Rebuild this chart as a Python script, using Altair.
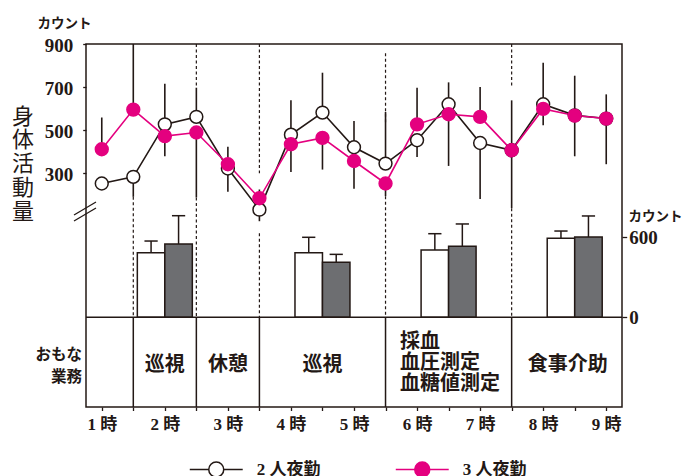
import altair as alt
import numpy as np
import pandas as pd

# Half-hour sampling points (hour of the night shift)
times = [1, 1.5, 2, 2.5, 3, 3.5, 4, 4.5, 5, 5.5, 6, 6.5, 7, 7.5, 8, 8.5, 9]
two_staff = [249, 280, 525, 560, 319, 127, 477, 580, 418, 342, 451, 619, 438, 404, 619, 567, 552]
three_staff = [409, 594, 470, 487, 339, 180, 432, 462, 354, 249, 525, 572, 560, 404, 597, 566, 552]
# SD whiskers: drawn upward from the higher mean and downward from the lower mean
sd_upper = [557, 900, 715, 696, 420, 221, 637, 766, 541, 583, 696, 721, 699, 637, 813, 752, 665]
sd_lower = [249, 187, 376, 184, 210, 73, 303, 314, 225, 190, 373, 331, 177, 134, 521, 376, 339]

series_names = ["2 人夜勤", "3 人夜勤"]

# Mean count per work period (right axis)
bar_times = [2, 4.5, 6.5, 8.5]
bar_two = [485, 485, 505, 592]
bar_two_sd = [572, 600, 627, 647]
bar_three = [550, 412, 532, 602]
bar_three_sd = [762, 472, 700, 760]

# Work-period boundaries and the dashed guide pieces (left-axis units)
boundaries = [1.5, 2.5, 3.5, 5.5, 7.5]
guide_x = [1.5, 2.5, 2.5, 3.5, 3.5, 5.5, 5.5, 7.5, 7.5]
guide_top = [187, 900, 184, 900, 17, 857, 190, 900, 134]
guide_bottom = [-375, 696, -375, 297, -375, 530, -375, 700, -375]

# Main duties in each period
task_names = ["巡視", "休憩", "巡視", "食事介助"]
task_x = [2, 3, 4.5, 8.39]
blood_task = ["採血\n血圧測定\n血糖値測定"]
blood_x = [5.73]

INK = "#231815"
MAGENTA = "#E4007F"
GREY = "#6D6E71"
NUM_FONT = "'Liberation Serif', 'Noto Sans CJK JP', serif"
JP_FONT = "'Noto Sans CJK JP', sans-serif"

W, H = 536, 363

x_scale = alt.Scale(domain=[0.75, 9.25], nice=False, zero=False)
left_scale = alt.Scale(domain=[-794, 900], nice=False, zero=False)
right_scale = alt.Scale(domain=[-673, 2050], nice=False, zero=False)

x_axis = alt.Axis(
    values=times,
    labelExpr="datum.value % 1 == 0 ? datum.value + ' 時' : ''",
    title=None, grid=False, domain=False,
    tickSize=3.5, tickWidth=1.3, tickColor=INK,
    labelFont=NUM_FONT, labelFontSize=17, labelFontWeight="bold",
    labelColor=INK, labelPadding=6, labelFlush=False, labelOverlap=False,
)
left_axis = alt.Axis(
    values=[300, 500, 700, 900],
    title=list("身体活動量"), titleAngle=0, titleAlign="center",
    titleBaseline="middle", titleX=-63.5, titleY=72,
    titleFont=JP_FONT, titleFontSize=22, titleFontWeight="normal",
    titleLineHeight=23.75, titleColor=INK,
    grid=False, domain=False, tickSize=3.3, tickWidth=1.3, tickColor=INK,
    labelFont=NUM_FONT, labelFontSize=19, labelFontWeight="bold",
    labelColor=INK, labelPadding=10, labelFlush=False, labelOffset=1.5,
)
right_axis = alt.Axis(
    orient="right", values=[0, 600],
    title="カウント", titleAngle=0, titleAlign="left", titleBaseline="middle",
    titleX=6, titleY=172, titleFont=JP_FONT, titleFontSize=13.5,
    titleFontWeight="bold", titleColor=INK,
    grid=False, domain=False, tickSize=4.7, tickWidth=1.3, tickColor=INK,
    labelFont=NUM_FONT, labelFontSize=19, labelFontWeight="bold",
    labelColor=INK, labelPadding=2, labelFlush=False,
)


def X(field):
    return alt.X(field, type="quantitative", scale=x_scale, axis=x_axis)


def YL(field):
    return alt.Y(field, type="quantitative", scale=left_scale, axis=left_axis)


def YR(field):
    return alt.Y(field, type="quantitative", scale=right_scale, axis=right_axis)


# ---- activity time series (left axis) ----
pts = pd.DataFrame({
    "time": times * 2,
    "value": two_staff + three_staff,
    "series": [series_names[0]] * len(times) + [series_names[1]] * len(times),
})

sd = pd.DataFrame({"time": times, "two": two_staff, "three": three_staff,
                   "upper": sd_upper, "lower": sd_lower})
sd["high_mean"] = sd[["two", "three"]].max(axis=1)
sd["low_mean"] = sd[["two", "three"]].min(axis=1)

guides = pd.DataFrame({"x": guide_x, "top": guide_top, "bottom": guide_bottom})

legend_symbol = "M-3.53,0L-1,0M1,0L3.53,0M1,0A1,1,0,1,1,-1,0A1,1,0,1,1,1,0Z"
legend = alt.Legend(
    title=None, orient="none", legendX=121.75, legendY=417,
    direction="horizontal", columns=2, columnPadding=72,
    symbolType=legend_symbol, symbolSize=225, symbolStrokeWidth=1.5,
    labelFont=NUM_FONT, labelFontSize=17, labelFontWeight="bold",
    labelColor=INK, labelOffset=32,
)

guide_layer = alt.Chart(guides).mark_rule(
    color=INK, strokeWidth=1.2, strokeDash=[3, 2.5]
).encode(x=X("x"), y=YL("top"), y2="bottom:Q")

sd_up_layer = alt.Chart(sd).mark_rule(color=INK, strokeWidth=1.6).encode(
    x=X("time"), y=YL("high_mean"), y2="upper:Q")
sd_low_layer = alt.Chart(sd).mark_rule(color=INK, strokeWidth=1.6).encode(
    x=X("time"), y=YL("low_mean"), y2="lower:Q")

line_two = alt.Chart(pts).transform_filter(
    alt.datum.series == series_names[0]
).mark_line(color=INK, strokeWidth=1.6).encode(x=X("time"), y=YL("value"))
line_three = alt.Chart(pts).transform_filter(
    alt.datum.series == series_names[1]
).mark_line(color=MAGENTA, strokeWidth=1.6).encode(x=X("time"), y=YL("value"))

point_layer = alt.Chart(pts).mark_point(
    shape="circle", size=165, strokeWidth=1.5, opacity=1, filled=False
).encode(
    x=X("time"), y=YL("value"),
    fill=alt.Fill("series:N", scale=alt.Scale(domain=series_names, range=["white", MAGENTA]), legend=legend),
    stroke=alt.Stroke("series:N", scale=alt.Scale(domain=series_names, range=[INK, MAGENTA]), legend=legend),
)

# ---- duty table texts ----
tasks = pd.DataFrame({"x": task_x, "name": task_names})
task_layer = alt.Chart(tasks).mark_text(
    font=JP_FONT, fontSize=20, fontWeight="bold", color=INK, baseline="middle"
).encode(x=X("x"), y=alt.value(321), text="name:N")

blood = pd.DataFrame({"x": blood_x, "name": blood_task})
blood_layer = alt.Chart(blood).mark_text(
    font=JP_FONT, fontSize=20, fontWeight="bold", color=INK, baseline="middle",
    align="left", lineBreak="\n", lineHeight=21,
).encode(x=X("x"), y=alt.value(297.7), text="name:N")

row_head = alt.Chart(pd.DataFrame({"t": ["おもな\n業務"]})).mark_text(
    font=JP_FONT, fontSize=15.5, fontWeight="bold", color=INK, align="right",
    baseline="middle", lineBreak="\n", lineHeight=21.5,
).encode(x=alt.value(-4), y=alt.value(311), text="t:N")

left_unit = alt.Chart(pd.DataFrame({"t": ["カウント"]})).mark_text(
    font=JP_FONT, fontSize=13.5, fontWeight="bold", color=INK, baseline="middle"
).encode(x=alt.value(-21.5), y=alt.value(-20.5), text="t:N")

# axis break marks
brk = pd.DataFrame({"k": [0]})
break_a = alt.Chart(brk).mark_rule(color=INK, strokeWidth=1.3).encode(
    x=alt.value(-12), x2=alt.value(10), y=alt.value(171), y2=alt.value(158))
break_b = alt.Chart(brk).mark_rule(color=INK, strokeWidth=1.3).encode(
    x=alt.value(-12), x2=alt.value(10), y=alt.value(177), y2=alt.value(164))

left_part = alt.layer(
    guide_layer, sd_up_layer, sd_low_layer, line_two, line_three, point_layer,
    task_layer, blood_layer, row_head, left_unit, break_a, break_b,
)

# ---- period means (right axis) ----
bar_w = 0.436
cap_half = 0.105
bars = pd.DataFrame({
    "center": bar_times * 2,
    "value": bar_two + bar_three,
    "sd": bar_two_sd + bar_three_sd,
    "side": [-1] * len(bar_times) + [1] * len(bar_times),
})
bars["x0"] = bars["center"] + np.where(bars["side"] < 0, -bar_w, 0.0)
bars["x1"] = bars["center"] + np.where(bars["side"] < 0, 0.0, bar_w)
bars["mid"] = (bars["x0"] + bars["x1"]) / 2
bars["cap0"] = bars["mid"] - cap_half
bars["cap1"] = bars["mid"] + cap_half

dividers = pd.DataFrame({"x": boundaries, "top": [0] * len(boundaries),
                         "bottom": [-673] * len(boundaries)})
divider_layer = alt.Chart(dividers).mark_rule(color=INK, strokeWidth=1.5).encode(
    x=X("x"), y=YR("top"), y2="bottom:Q")

zero_line = alt.Chart(pd.DataFrame({"x0": [0.75], "x1": [9.25], "y": [0]})).mark_rule(
    color=INK, strokeWidth=1.5).encode(x=X("x0"), x2="x1:Q", y=YR("y"))

bar_sd = alt.Chart(bars).mark_rule(color=INK, strokeWidth=1.5).encode(
    x=X("mid"), y=YR("value"), y2="sd:Q")
bar_cap = alt.Chart(bars).mark_rule(color=INK, strokeWidth=1.5).encode(
    x=X("cap0"), x2="cap1:Q", y=YR("sd"))
bar_two_layer = alt.Chart(bars).transform_filter(alt.datum.side < 0).mark_rect(
    fill="white", stroke=INK, strokeWidth=1.5).encode(
    x=X("x0"), x2="x1:Q", y=YR("value"), y2=alt.datum(0))
bar_three_layer = alt.Chart(bars).transform_filter(alt.datum.side > 0).mark_rect(
    fill=GREY, stroke=INK, strokeWidth=1.5).encode(
    x=X("x0"), x2="x1:Q", y=YR("value"), y2=alt.datum(0))

right_part = alt.layer(divider_layer, bar_sd, bar_cap, bar_two_layer,
                       bar_three_layer, zero_line)

chart = alt.layer(left_part, right_part).resolve_scale(y="independent").properties(
    width=W, height=H,
    autosize=alt.AutoSizeParams(type="none"),
    padding={"left": 86, "top": 44, "right": 61, "bottom": 70},
    background="white",
).configure_view(stroke=INK, strokeWidth=1.5)

chart.save("out.html", embed_options={"renderer": "svg", "actions": False})
